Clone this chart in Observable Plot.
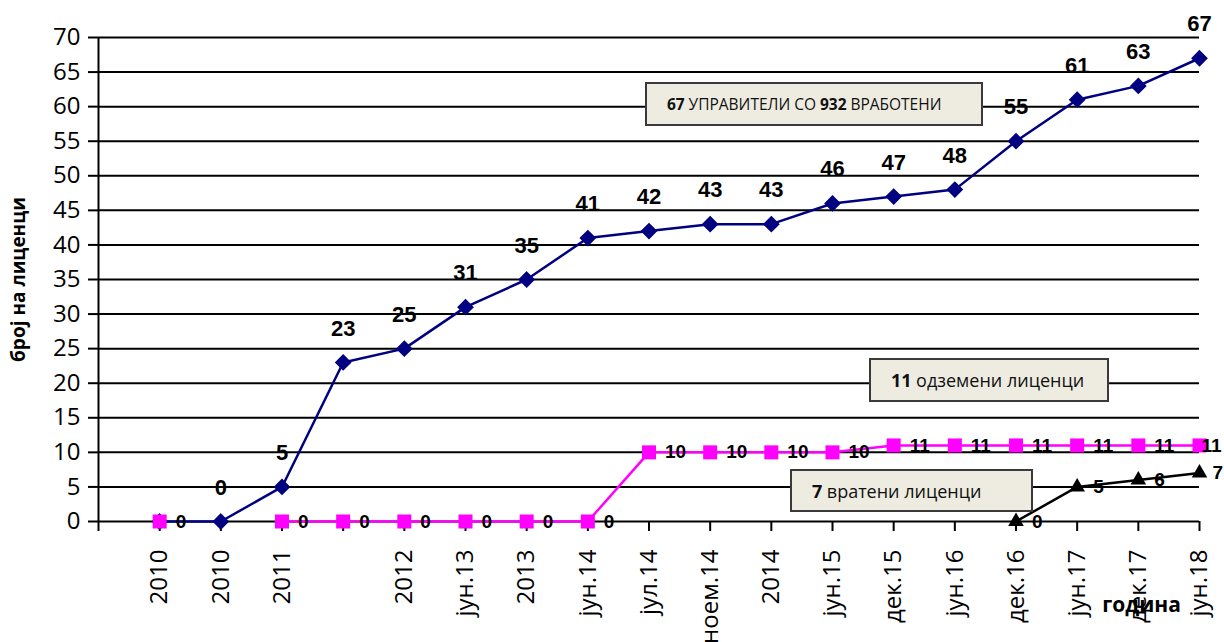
<!DOCTYPE html>
<html>
<head>
<meta charset="utf-8">
<script src="https://cdn.jsdelivr.net/npm/d3@7"></script>
<script src="https://cdn.jsdelivr.net/npm/@observablehq/plot@0.6"></script>
<style>
  html, body { margin: 0; padding: 0; background: #fff; }
  #wrap { position: relative; width: 1224px; height: 642px; overflow: hidden; }
  .note {
    position: absolute; box-sizing: border-box;
    background: #EEECE1; border: 2px solid #3a3a3a;
    display: flex; align-items: center;
    font-family: "Open Sans", sans-serif; color: #111; white-space: nowrap;
  }
  .note b { font-weight: 700; margin-right: 0.25em; }
</style>
</head>
<body>
<div id="wrap"></div>
<script>
// Periods on the category axis (an empty slot keeps its tick without a label)
const periods = ["2010", "2010", "2011", "", "2012", "јун.13", "2013", "јун.14", "јул.14",
  "ноем.14", "2014", "јун.15", "дек.15", "јун.16", "дек.16", "јун.17", "дек.17", "јун.18"];

// Number of licensed managers
const managers = [0, 0, 5, 23, 25, 31, 35, 41, 42, 43, 43, 46, 47, 48, 55, 61, 63, 67];

// Revoked licences (no entry for the second period)
const revoked = [0, null, 0, 0, 0, 0, 0, 0, 10, 10, 10, 10, 11, 11, 11, 11, 11, 11];

// Returned licences (recorded from дек.16 on)
const returned = [null, null, null, null, null, null, null, null, null,
  null, null, null, null, null, 0, 5, 6, 7];

const yTicks = d3.range(0, 71, 5);

const rows = periods.map((p, i) => ({
  i, period: p,
  managers: managers[i], revoked: revoked[i], returned: returned[i]
}));
const last = rows.length - 1;

const navy = "#000080";
const magenta = "#FF00FF";
const labelFont = "Liberation Sans, Arial, sans-serif";

// labels placed to the right of a marker; the last column is pulled in to stay on the page
function rightLabels(key) {
  const has = d => d[key] != null;
  const opts = {
    x: "i", y: key, text: d => String(d[key]), textAnchor: "start",
    fontWeight: "bold", fontSize: 19, fontFamily: labelFont
  };
  return [
    Plot.text(rows.filter(d => has(d) && d.i < last), { ...opts, dx: 16 }),
    Plot.text(rows.filter(d => has(d) && d.i === last), { ...opts, dx: key === "revoked" ? 2 : 13 })
  ];
}

const chart = Plot.plot({
  width: 1224,
  height: 642,
  marginLeft: 98,
  marginRight: 25,
  marginTop: 37,
  marginBottom: 121,
  style: { background: "white", fontFamily: "Open Sans, sans-serif", color: "black" },
  x: { type: "linear", domain: [-1, 17] },
  y: { domain: [0, 70] },
  marks: [
    // horizontal grid, the zero line doubles as the category axis
    Plot.ruleY(yTicks, { stroke: "black", strokeWidth: 2 }),
    Plot.ruleX([-1], { stroke: "black", strokeWidth: 2 }),
    Plot.axisY({
      ticks: yTicks, tickSize: 10, tickPadding: 8, strokeWidth: 2,
      fontSize: 24, label: null
    }),
    Plot.axisX({
      ticks: d3.range(-1, 18), tickSize: 10, tickPadding: 18, strokeWidth: 2,
      tickFormat: i => (i < 0 ? "" : periods[i]),
      tickRotate: -90, fontSize: 24, label: null
    }),
    Plot.text(["број на лиценци"], {
      frameAnchor: "left", textAnchor: "middle", rotate: -90, dx: -80,
      fontWeight: "bold", fontSize: 19
    }),
    Plot.text(["година"], {
      frameAnchor: "bottom-right", textAnchor: "middle", dx: -58, dy: 90,
      fontWeight: "bold", fontSize: 21
    }),

    // managers
    Plot.line(rows, { x: "i", y: "managers", stroke: navy, strokeWidth: 2.5 }),
    Plot.dot(rows, { x: "i", y: "managers", symbol: "diamond2", r: 6.6, fill: navy, stroke: navy }),

    // revoked licences
    Plot.line(rows, { x: "i", y: "revoked", stroke: magenta, strokeWidth: 2.5 }),
    Plot.dot(rows, { x: "i", y: "revoked", symbol: "square", r: 7.9, fill: magenta }),

    // returned licences
    Plot.line(rows, { x: "i", y: "returned", stroke: "black", strokeWidth: 2.5 }),
    Plot.dot(rows, { x: "i", y: "returned", symbol: "triangle", r: 5.8, fill: "black" }),

    // value labels (the first managers point sits under the revoked marker and is not labelled)
    Plot.text(rows.filter(d => d.i > 0), {
      x: "i", y: "managers", text: d => String(d.managers), dy: -34,
      fontWeight: "bold", fontSize: 22, fontFamily: labelFont
    }),
    ...rightLabels("revoked"),
    ...rightLabels("returned")
  ]
});

const wrap = document.getElementById("wrap");
wrap.appendChild(chart);

// callout boxes
const notes = [
  { html: "<b>67</b>УПРАВИТЕЛИ СО <b style='margin-left:0.25em'>932</b>ВРАБОТЕНИ", left: 645, top: 82, w: 338, h: 44, size: 15.5 },
  { html: "<b>11</b>одземени лиценци", left: 869, top: 358, w: 240, h: 44, size: 18 },
  { html: "<b>7</b>вратени лиценци", left: 790, top: 469, w: 243, h: 43, size: 18 }
];
for (const n of notes) {
  const d = document.createElement("div");
  d.className = "note";
  d.style.left = n.left + "px";
  d.style.top = n.top + "px";
  d.style.width = n.w + "px";
  d.style.height = n.h + "px";
  d.style.fontSize = n.size + "px";
  d.style.paddingLeft = "20px";
  d.innerHTML = n.html;
  wrap.appendChild(d);
}
</script>
</body>
</html>
